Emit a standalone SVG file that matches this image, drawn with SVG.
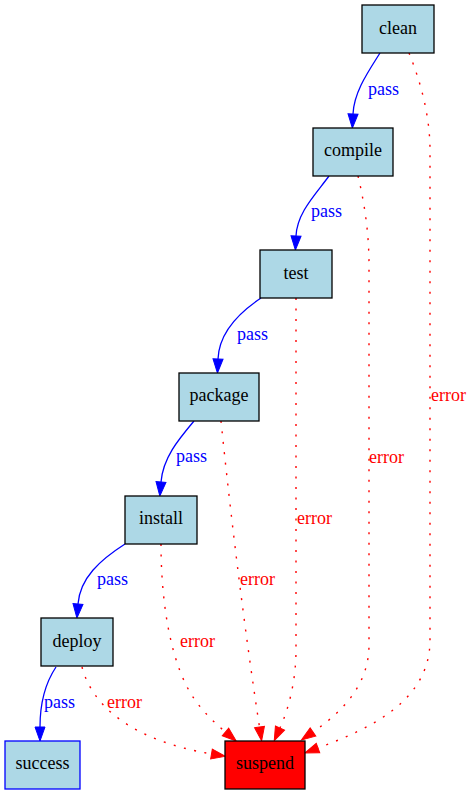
<svg xmlns="http://www.w3.org/2000/svg" width="472" height="795" viewBox="0 0 472 795">
<style>
.node rect{fill:#add8e6;stroke:#000;stroke-width:1.3}
.node text{font-family:"Liberation Serif","Times New Roman",serif;font-size:18px;fill:#000;text-anchor:middle}
.pass{fill:none;stroke:#0000ff;stroke-width:1.3}
.err{fill:none;stroke:#ff0000;stroke-width:1.4;stroke-dasharray:2,8.5}
.pl{font-family:"Liberation Serif","Times New Roman",serif;font-size:18px;fill:#0000ff}
.el{font-family:"Liberation Serif","Times New Roman",serif;font-size:18px;fill:#ff0000}
</style>
<defs>
<marker id="ab" markerUnits="userSpaceOnUse" markerWidth="16" markerHeight="12" refX="0" refY="5" orient="auto" overflow="visible">
<path d="M0,0 L14,5 L0,10 Z" fill="#0000ff" stroke="#0000ff" stroke-width="1"/>
</marker>
<marker id="ar" markerUnits="userSpaceOnUse" markerWidth="16" markerHeight="12" refX="0" refY="5" orient="auto" overflow="visible">
<path d="M0,0 L14,5 L0,10 Z" fill="#ff0000" stroke="#ff0000" stroke-width="1"/>
</marker>
</defs>
<rect width="472" height="795" fill="#fff"/>
<g id="edges">
<path class="pass" d="M380,53 C368,72 354,92 353,114" marker-end="url(#ab)"/>
<path class="pass" d="M329,176 C315,195 297,213 296,236" marker-end="url(#ab)"/>
<path class="pass" d="M261,298 C240,312 219,333 218,359" marker-end="url(#ab)"/>
<path class="pass" d="M194,421 C178,440 163,458 161,482" marker-end="url(#ab)"/>
<path class="pass" d="M125,544 C100,560 80,578 78,604" marker-end="url(#ab)"/>
<path class="pass" d="M56,667 C46,682 40,700 40,727" marker-end="url(#ab)"/>
<path class="err" d="M409,53 C420,80 430,115 430,150 L430,640 C430,700 372,728 318,748" marker-end="url(#ar)"/>
<path class="err" d="M358,176 C365,205 369,235 369,265 L369,645 C369,685 342,712 313,732" marker-end="url(#ar)"/>
<path class="err" d="M296,298 L296,650 C296,680 289,708 280,728" marker-end="url(#ar)"/>
<path class="err" d="M221,421 C226,470 240,600 259.5,727" marker-end="url(#ar)"/>
<path class="err" d="M161,544 C161,600 170,665 195,700 C205,714 216,724 225.5,732" marker-end="url(#ar)"/>
<path class="err" d="M82,667 C92,705 130,740 211.5,754" marker-end="url(#ar)"/>
<text class="pl" x="368" y="95">pass</text>
<text class="pl" x="311" y="217">pass</text>
<text class="pl" x="237" y="340">pass</text>
<text class="pl" x="176" y="462">pass</text>
<text class="pl" x="97" y="585">pass</text>
<text class="pl" x="44" y="708">pass</text>
<text class="el" x="431" y="401">error</text>
<text class="el" x="369" y="463">error</text>
<text class="el" x="297" y="524">error</text>
<text class="el" x="240" y="585">error</text>
<text class="el" x="180" y="647">error</text>
<text class="el" x="107" y="708">error</text>
</g>
<g id="clean" class="node"><rect x="362" y="5" width="72" height="48"/><text x="398" y="34">clean</text></g>
<g id="compile" class="node"><rect x="313" y="128" width="80" height="48"/><text x="353" y="156">compile</text></g>
<g id="test" class="node"><rect x="260" y="250" width="72" height="48"/><text x="296" y="279">test</text></g>
<g id="package" class="node"><rect x="179" y="373" width="80" height="48"/><text x="219" y="401">package</text></g>
<g id="install" class="node"><rect x="125" y="496" width="72" height="48"/><text x="161" y="524">install</text></g>
<g id="deploy" class="node"><rect x="41" y="618" width="72" height="48"/><text x="77" y="647">deploy</text></g>
<g id="success" class="node"><rect x="5" y="741" width="75" height="48" style="stroke:#0000ff"/><text x="42.5" y="769">success</text></g>
<g id="suspend" class="node"><rect x="225" y="741" width="80" height="48" style="fill:#ff0000"/><text x="265" y="769">suspend</text></g>
</svg>
